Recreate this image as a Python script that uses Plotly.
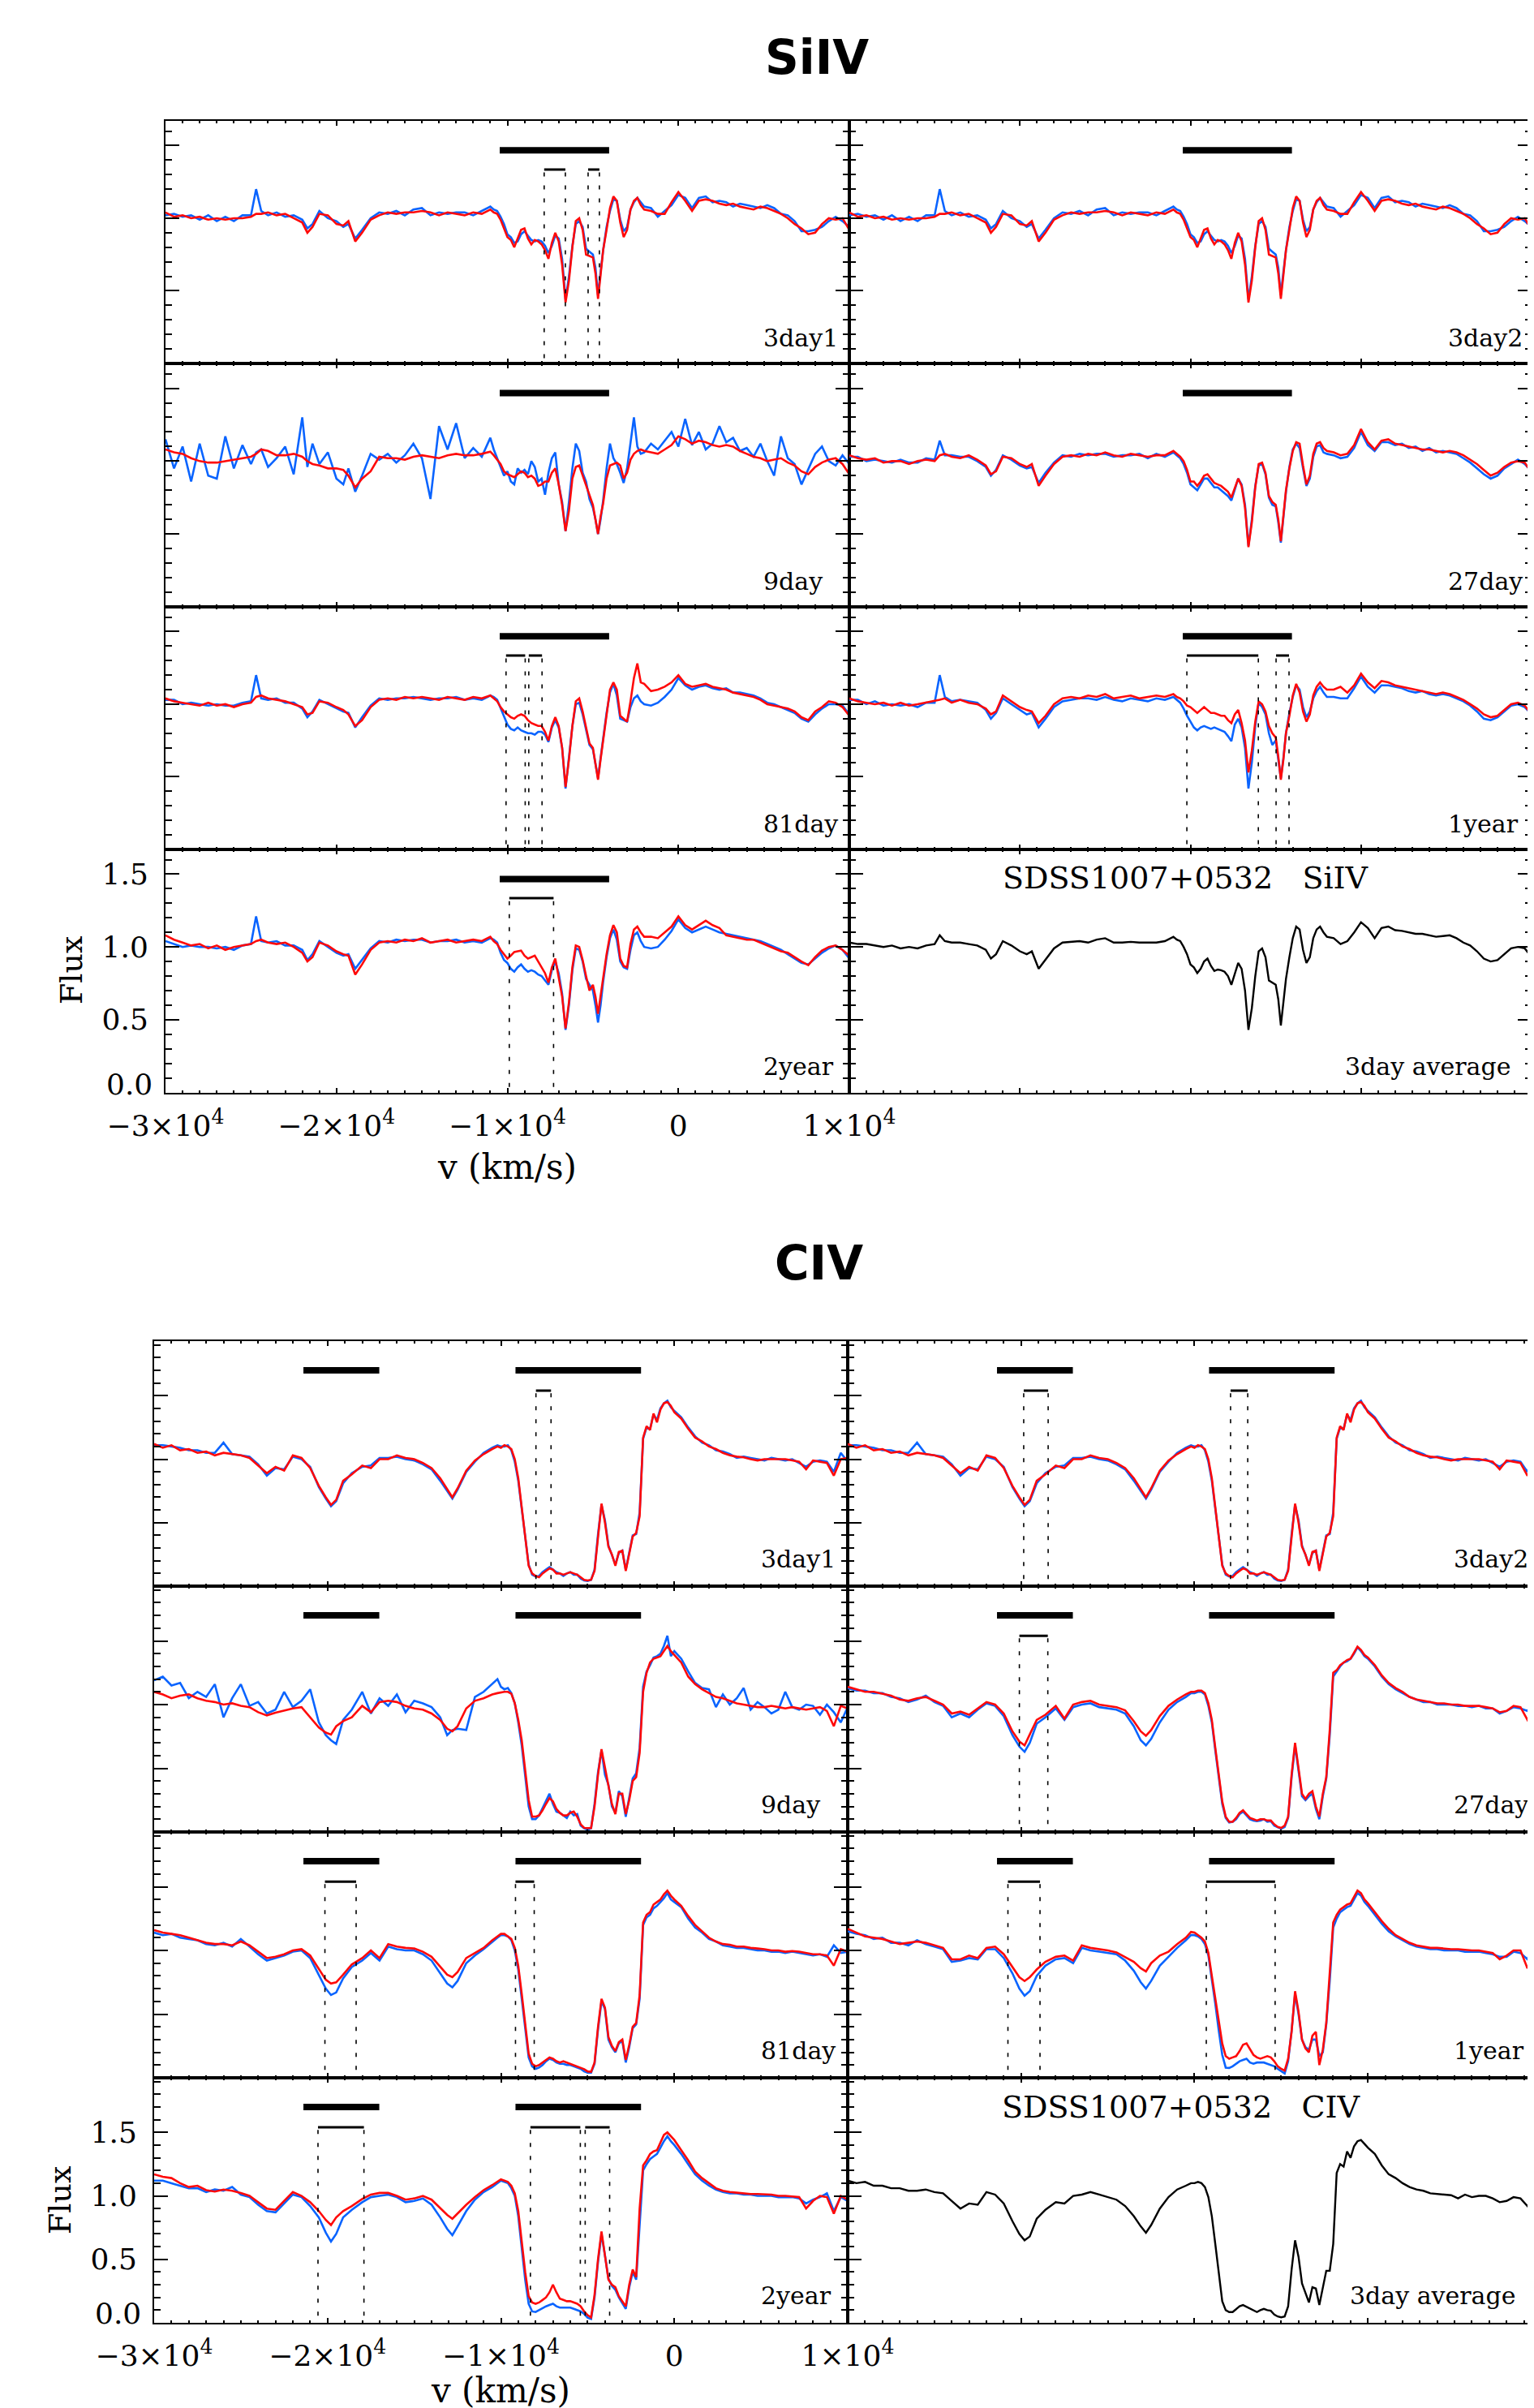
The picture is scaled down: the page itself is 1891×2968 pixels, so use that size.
import plotly.graph_objects as go

PAGE_W, PAGE_H = 1891, 2968
OFF = 8                      # default body margin of the html page
W, H = PAGE_W - OFF, PAGE_H - OFF
BLUE = "#0A64FF"
RED = "#FF0A0A"
SERIF = "DejaVu Serif"

# ---------------------------------------------------------------- SiIV data
v_siiv = ([-30000, -29500, -29000, -28500, -28000, -27500, -27000, -26500, -26000, -25500,
           -25000, -24700, -24400, -24000, -23500, -23000, -22500, -22000, -21700, -21400,
           -21000, -20500, -20000, -19600, -19300, -18900, -18500, -18000, -17500, -17000,
           -16500, -16000, -15500, -15000, -14500, -14000, -13500, -13000, -12500, -12000,
           -11500, -11000]
          + [-10800, -10600, -10400, -10200, -10000, -9800, -9600, -9400, -9200, -9000,
             -8800, -8600, -8400, -8200, -8000, -7800, -7600, -7400, -7200, -7000,
             -6800, -6600, -6400, -6200, -6000, -5800, -5600, -5400, -5200, -5000,
             -4850, -4700, -4550, -4400, -4200, -4000, -3800, -3600, -3400, -3200,
             -3000, -2800, -2600, -2400, -2200, -2000]
          + [-1600, -1200, -800, -400, 0, 400, 800, 1200, 1600, 2000,
             2400, 2800, 3200, 3600, 4000, 4400, 4800, 5200, 5600, 6000,
             6400, 6800, 7200, 7600, 8000, 8400, 8800, 9200, 9600, 10000])

siiv_avg = ([1.03, 1.02, 1.02, 1.01, 1.00, 1.01, 0.99, 1.00, 0.99, 1.01, 1.02, 1.08, 1.04, 1.03, 1.03, 1.02, 1.01, 0.98, 0.92, 0.95,
             1.04, 1.01, 0.97, 0.95, 0.97, 0.85, 0.91, 0.99, 1.03, 1.035, 1.04, 1.03, 1.05, 1.06, 1.03, 1.03, 1.035, 1.03, 1.03, 1.03, 1.04, 1.07]
            + [1.05, 1.04, 1.00, 0.95, 0.88, 0.86, 0.82, 0.85, 0.90, 0.92, 0.87, 0.835, 0.845, 0.84, 0.83, 0.80, 0.74, 0.82, 0.89, 0.85,
               0.70, 0.43, 0.58, 0.80, 0.97, 0.99, 0.93, 0.77, 0.755, 0.74, 0.64, 0.46, 0.62, 0.78, 0.93, 1.06, 1.14, 1.12, 0.98, 0.89,
               0.93, 1.06, 1.12, 1.14, 1.10, 1.07]
            + [1.06, 1.02, 1.04, 1.10, 1.17, 1.13, 1.06, 1.13, 1.14, 1.115, 1.11, 1.10, 1.09, 1.09, 1.08, 1.07, 1.075, 1.08, 1.06, 1.03,
               1.01, 0.97, 0.92, 0.90, 0.91, 0.95, 0.99, 1.00, 0.99, 0.93])

siiv_3day_red = ([1.04, 1.01, 1.02, 1.00, 1.01, 0.99, 1.00, 0.99, 1.00, 1.00, 1.01, 1.03, 1.03, 1.04, 1.02, 1.03, 1.00, 0.97, 0.90, 0.94,
                  1.03, 1.02, 0.96, 0.95, 0.98, 0.84, 0.90, 0.99, 1.02, 1.04, 1.03, 1.04, 1.04, 1.05, 1.04, 1.02, 1.04, 1.03, 1.02, 1.04, 1.03, 1.06]
                 + [1.04, 1.03, 0.99, 0.93, 0.87, 0.85, 0.80, 0.86, 0.92, 0.93, 0.86, 0.82, 0.85, 0.84, 0.82, 0.78, 0.72, 0.83, 0.90, 0.84,
                    0.68, 0.42, 0.57, 0.80, 0.98, 1.00, 0.92, 0.75, 0.74, 0.73, 0.62, 0.445, 0.61, 0.78, 0.92, 1.07, 1.15, 1.12, 0.97, 0.87,
                    0.92, 1.06, 1.12, 1.14, 1.09, 1.06]
                 + [1.05, 1.03, 1.03, 1.11, 1.18, 1.12, 1.05, 1.12, 1.13, 1.12, 1.10, 1.09, 1.10, 1.08, 1.07, 1.06, 1.08, 1.07, 1.05, 1.03,
                    1.00, 0.96, 0.93, 0.89, 0.90, 0.96, 1.00, 0.99, 1.00, 0.92])

siiv_3day_blue = ([1.02, 1.03, 1.01, 1.02, 0.99, 1.02, 0.98, 1.01, 0.98, 1.02, 1.02, 1.20, 1.05, 1.02, 1.04, 1.01, 1.02, 0.99, 0.93, 0.96,
                   1.05, 1.00, 0.98, 0.94, 0.96, 0.86, 0.92, 1.00, 1.04, 1.03, 1.05, 1.02, 1.06, 1.07, 1.02, 1.04, 1.03, 1.04, 1.04, 1.02, 1.05, 1.08]
                  + [1.06, 1.05, 1.01, 0.96, 0.89, 0.87, 0.83, 0.84, 0.89, 0.91, 0.88, 0.85, 0.84, 0.85, 0.84, 0.81, 0.76, 0.81, 0.88, 0.86,
                     0.72, 0.44, 0.60, 0.81, 0.96, 0.98, 0.94, 0.79, 0.77, 0.75, 0.66, 0.47, 0.63, 0.78, 0.94, 1.05, 1.13, 1.12, 0.99, 0.91,
                     0.94, 1.06, 1.11, 1.14, 1.11, 1.08]
                  + [1.07, 1.01, 1.05, 1.09, 1.16, 1.14, 1.07, 1.14, 1.15, 1.11, 1.12, 1.11, 1.08, 1.10, 1.09, 1.08, 1.07, 1.09, 1.07, 1.03,
                     1.02, 0.98, 0.91, 0.91, 0.92, 0.94, 0.98, 1.01, 0.98, 0.94])

siiv_9day_red = ([1.08, 1.06, 1.05, 1.02, 1.00, 0.99, 0.99, 1.00, 1.01, 1.02, 1.03, 1.05, 1.08, 1.07, 1.04, 1.04, 1.05, 1.03, 1.00, 0.98,
                  0.97, 0.95, 0.95, 0.94, 0.90, 0.82, 0.88, 0.93, 1.03, 1.02, 1.02, 1.01, 1.03, 1.04, 1.03, 1.02, 1.04, 1.05, 1.04, 1.04, 1.05, 1.065]
                 + [1.04, 1.01, 0.98, 0.93, 0.91, 0.90, 0.89, 0.91, 0.93, 0.92, 0.89, 0.90, 0.88, 0.83, 0.84, 0.86, 0.86, 0.92, 0.95, 0.84,
                    0.70, 0.52, 0.66, 0.88, 0.96, 0.97, 0.90, 0.83, 0.76, 0.70, 0.60, 0.50, 0.62, 0.71, 0.88, 0.97, 0.98, 0.99, 0.97, 0.88,
                    0.92, 1.01, 1.05, 1.07, 1.08, 1.07]
                 + [1.06, 1.05, 1.08, 1.11, 1.17, 1.15, 1.12, 1.14, 1.13, 1.11, 1.10, 1.11, 1.10, 1.07, 1.05, 1.03, 1.02, 1.00, 1.01, 1.02,
                    0.99, 0.97, 0.93, 0.91, 0.96, 0.99, 1.01, 1.02, 0.98, 0.91])

siiv_9day_blue = ([1.15, 0.95, 1.10, 0.86, 1.12, 0.90, 0.88, 1.17, 0.95, 1.11, 0.98, 1.06, 1.08, 0.96, 1.02, 1.10, 0.91, 1.30, 0.96, 1.12,
                   0.98, 1.06, 0.88, 0.84, 0.95, 0.79, 0.90, 1.05, 1.01, 1.05, 0.99, 1.04, 1.12, 1.02, 0.74, 1.24, 1.08, 1.26, 1.02, 1.09, 1.03, 1.16]
                  + [1.08, 1.02, 0.97, 0.90, 0.93, 0.86, 0.84, 0.95, 0.92, 0.94, 0.91, 1.00, 0.96, 0.86, 0.88, 0.77, 0.92, 1.02, 1.06, 0.84,
                     0.72, 0.52, 0.72, 0.95, 1.12, 1.07, 0.92, 0.86, 0.74, 0.68, 0.60, 0.50, 0.60, 0.73, 0.95, 1.12, 1.02, 0.98, 0.92, 0.85,
                     0.95, 1.12, 1.30, 1.10, 1.05, 1.06]
                  + [1.12, 1.08, 1.14, 1.20, 1.10, 1.29, 1.11, 1.20, 1.08, 1.12, 1.24, 1.13, 1.16, 1.07, 1.09, 1.03, 1.12, 1.00, 0.90, 1.17,
                     1.02, 0.98, 0.84, 0.95, 1.05, 1.10, 1.00, 0.97, 1.04, 0.98])

siiv_27day_red = ([1.04, 1.02, 1.01, 1.02, 0.99, 1.00, 1.00, 0.98, 1.00, 1.01, 1.00, 1.04, 1.05, 1.03, 1.02, 1.04, 1.01, 0.97, 0.91, 0.93,
                   1.03, 1.02, 0.98, 0.96, 0.98, 0.83, 0.90, 0.98, 1.03, 1.04, 1.03, 1.05, 1.04, 1.06, 1.04, 1.03, 1.05, 1.04, 1.03, 1.04, 1.04, 1.07]
                  + [1.05, 1.03, 1.00, 0.94, 0.86, 0.86, 0.83, 0.86, 0.90, 0.91, 0.88, 0.85, 0.84, 0.83, 0.81, 0.79, 0.75, 0.82, 0.88, 0.83,
                     0.68, 0.41, 0.58, 0.82, 0.98, 0.99, 0.92, 0.76, 0.72, 0.70, 0.60, 0.45, 0.62, 0.80, 0.95, 1.07, 1.13, 1.12, 0.97, 0.84,
                     0.90, 1.05, 1.12, 1.13, 1.09, 1.07]
                  + [1.06, 1.04, 1.05, 1.11, 1.22, 1.13, 1.08, 1.14, 1.15, 1.12, 1.11, 1.10, 1.09, 1.08, 1.08, 1.07, 1.06, 1.07, 1.06, 1.04,
                     1.01, 0.98, 0.94, 0.90, 0.92, 0.96, 0.99, 1.00, 0.99, 0.92])

siiv_27day_blue = ([1.03, 1.03, 1.00, 1.01, 1.00, 0.99, 1.01, 0.99, 0.99, 1.02, 1.01, 1.14, 1.04, 1.04, 1.03, 1.03, 1.00, 0.96, 0.90, 0.94,
                    1.04, 1.01, 0.97, 0.95, 0.96, 0.85, 0.92, 0.99, 1.04, 1.03, 1.05, 1.04, 1.05, 1.05, 1.03, 1.04, 1.04, 1.05, 1.02, 1.05, 1.03, 1.06]
                   + [1.04, 1.02, 0.98, 0.92, 0.84, 0.82, 0.80, 0.84, 0.88, 0.88, 0.85, 0.82, 0.82, 0.80, 0.78, 0.76, 0.73, 0.81, 0.88, 0.84,
                      0.70, 0.42, 0.60, 0.83, 0.97, 0.98, 0.91, 0.75, 0.70, 0.69, 0.58, 0.44, 0.60, 0.79, 0.96, 1.08, 1.12, 1.09, 0.95, 0.83,
                      0.88, 1.03, 1.10, 1.11, 1.06, 1.05]
                   + [1.04, 1.02, 1.03, 1.09, 1.20, 1.11, 1.07, 1.13, 1.13, 1.11, 1.12, 1.09, 1.10, 1.07, 1.09, 1.06, 1.07, 1.06, 1.05, 1.02,
                      0.99, 0.95, 0.91, 0.88, 0.90, 0.95, 0.98, 1.01, 0.98, 0.93])

siiv_81day_red = ([1.04, 1.02, 1.01, 1.00, 0.99, 1.01, 0.99, 1.00, 0.98, 1.00, 1.01, 1.05, 1.06, 1.04, 1.03, 1.02, 1.00, 0.98, 0.93, 0.94,
                   1.02, 1.01, 0.98, 0.96, 0.93, 0.85, 0.89, 0.98, 1.03, 1.04, 1.03, 1.05, 1.04, 1.05, 1.04, 1.03, 1.05, 1.04, 1.03, 1.05, 1.04, 1.06]
                  + [1.04, 1.02, 0.98, 0.95, 0.93, 0.91, 0.90, 0.92, 0.93, 0.92, 0.89, 0.87, 0.86, 0.85, 0.85, 0.81, 0.75, 0.85, 0.91, 0.85,
                     0.70, 0.43, 0.62, 0.85, 1.02, 1.04, 0.95, 0.84, 0.73, 0.70, 0.58, 0.48, 0.62, 0.75, 0.95, 1.10, 1.15, 1.10, 0.92, 0.90,
                     0.88, 1.02, 1.18, 1.28, 1.15, 1.14]
                  + [1.09, 1.10, 1.12, 1.15, 1.20, 1.14, 1.12, 1.13, 1.14, 1.12, 1.11, 1.10, 1.08, 1.07, 1.06, 1.05, 1.03, 1.00, 0.99, 0.98,
                     0.97, 0.95, 0.91, 0.89, 0.95, 0.98, 1.02, 1.01, 0.98, 0.92])

siiv_81day_blue = ([1.03, 1.03, 1.00, 1.01, 1.00, 0.99, 1.00, 0.99, 0.99, 1.01, 1.02, 1.20, 1.04, 1.03, 1.04, 1.01, 1.01, 0.97, 0.91, 0.95,
                    1.03, 1.00, 0.97, 0.95, 0.94, 0.84, 0.91, 0.99, 1.04, 1.03, 1.04, 1.04, 1.05, 1.04, 1.03, 1.04, 1.04, 1.05, 1.03, 1.04, 1.03, 1.06]
                   + [1.05, 1.03, 0.97, 0.91, 0.86, 0.83, 0.82, 0.84, 0.82, 0.81, 0.80, 0.80, 0.79, 0.81, 0.81, 0.79, 0.74, 0.84, 0.89, 0.84,
                      0.70, 0.42, 0.62, 0.85, 1.00, 1.01, 0.93, 0.82, 0.72, 0.69, 0.58, 0.49, 0.63, 0.76, 0.94, 1.08, 1.14, 1.06, 0.90, 0.89,
                      0.88, 0.98, 1.04, 1.06, 1.02, 1.00]
                   + [0.99, 1.01, 1.05, 1.10, 1.18, 1.13, 1.10, 1.12, 1.13, 1.11, 1.10, 1.11, 1.08, 1.08, 1.07, 1.06, 1.04, 1.01, 1.00, 0.98,
                      0.96, 0.94, 0.90, 0.88, 0.93, 0.97, 1.00, 1.00, 0.99, 0.93])

siiv_1year_red = ([1.04, 1.02, 1.01, 1.00, 1.01, 0.99, 1.01, 0.99, 1.00, 1.01, 1.02, 1.03, 1.04, 1.01, 1.03, 1.01, 1.00, 0.97, 0.93, 0.95,
                   1.06, 1.02, 0.98, 0.96, 0.95, 0.87, 0.92, 1.00, 1.04, 1.05, 1.04, 1.06, 1.05, 1.07, 1.04, 1.05, 1.06, 1.04, 1.05, 1.06, 1.05, 1.07]
                  + [1.05, 1.04, 1.02, 0.99, 0.98, 0.96, 0.94, 0.96, 0.98, 0.96, 0.94, 0.94, 0.93, 0.92, 0.92, 0.89, 0.87, 0.93, 0.96, 0.87,
                     0.75, 0.53, 0.68, 0.88, 1.02, 1.00, 0.95, 0.85, 0.80, 0.77, 0.64, 0.48, 0.62, 0.80, 0.92, 1.06, 1.14, 1.08, 0.95, 0.88,
                     0.93, 1.06, 1.12, 1.15, 1.12, 1.10]
                  + [1.10, 1.12, 1.08, 1.13, 1.21, 1.15, 1.11, 1.16, 1.15, 1.13, 1.12, 1.11, 1.10, 1.09, 1.08, 1.07, 1.08, 1.07, 1.05, 1.03,
                     1.00, 0.97, 0.93, 0.91, 0.92, 0.96, 1.00, 1.01, 0.99, 0.93])

siiv_1year_blue = ([1.03, 1.03, 1.00, 1.02, 0.99, 1.00, 0.99, 1.00, 0.98, 1.01, 1.01, 1.20, 1.05, 1.02, 1.03, 1.02, 1.01, 0.96, 0.90, 0.94,
                    1.04, 1.00, 0.96, 0.93, 0.94, 0.84, 0.90, 0.98, 1.02, 1.03, 1.04, 1.04, 1.03, 1.05, 1.03, 1.02, 1.04, 1.03, 1.02, 1.04, 1.03, 1.05]
                   + [1.03, 1.01, 0.97, 0.92, 0.88, 0.84, 0.82, 0.84, 0.85, 0.84, 0.83, 0.84, 0.83, 0.82, 0.81, 0.78, 0.745, 0.86, 0.90, 0.84,
                      0.70, 0.42, 0.60, 0.85, 1.01, 0.98, 0.93, 0.80, 0.72, 0.75, 0.62, 0.49, 0.63, 0.80, 0.94, 1.05, 1.13, 1.10, 0.98, 0.91,
                      0.95, 1.04, 1.09, 1.12, 1.08, 1.05]
                   + [1.05, 1.04, 1.04, 1.11, 1.19, 1.12, 1.08, 1.13, 1.13, 1.12, 1.11, 1.09, 1.08, 1.09, 1.07, 1.06, 1.07, 1.06, 1.04, 1.02,
                      0.99, 0.95, 0.90, 0.89, 0.91, 0.95, 0.99, 1.00, 0.98, 0.93])

siiv_2year_red = ([1.08, 1.05, 1.03, 1.01, 1.02, 0.99, 1.01, 0.98, 1.00, 1.01, 1.02, 1.04, 1.05, 1.03, 1.02, 1.03, 1.00, 0.96, 0.90, 0.93,
                   1.03, 1.01, 0.97, 0.95, 0.94, 0.81, 0.88, 0.98, 1.03, 1.04, 1.03, 1.05, 1.04, 1.06, 1.03, 1.04, 1.05, 1.03, 1.04, 1.05, 1.04, 1.07]
                  + [1.04, 1.02, 0.98, 0.95, 0.92, 0.94, 0.965, 0.97, 0.975, 0.94, 0.92, 0.93, 0.94, 0.90, 0.86, 0.82, 0.755, 0.86, 0.92, 0.80,
                     0.66, 0.44, 0.62, 0.86, 1.01, 1.00, 0.91, 0.80, 0.70, 0.74, 0.66, 0.54, 0.66, 0.78, 0.95, 1.08, 1.15, 1.10, 0.92, 0.87,
                     0.86, 1.02, 1.12, 1.14, 1.10, 1.07]
                  + [1.07, 1.06, 1.10, 1.14, 1.21, 1.15, 1.12, 1.15, 1.18, 1.15, 1.13, 1.08, 1.07, 1.06, 1.05, 1.05, 1.03, 1.01, 0.99, 0.97,
                     0.96, 0.93, 0.90, 0.875, 0.93, 0.975, 1.00, 1.01, 0.98, 0.94])

siiv_2year_blue = ([1.04, 1.02, 1.00, 1.01, 1.00, 1.00, 0.99, 1.00, 0.98, 1.01, 1.02, 1.21, 1.04, 1.03, 1.04, 1.01, 1.01, 0.98, 0.91, 0.95,
                    1.04, 1.00, 0.96, 0.94, 0.95, 0.85, 0.91, 0.99, 1.04, 1.03, 1.05, 1.04, 1.05, 1.05, 1.03, 1.04, 1.04, 1.05, 1.03, 1.04, 1.03, 1.06]
                   + [1.05, 1.03, 0.96, 0.91, 0.89, 0.85, 0.83, 0.86, 0.88, 0.85, 0.83, 0.84, 0.83, 0.81, 0.80, 0.77, 0.74, 0.84, 0.90, 0.82,
                      0.68, 0.43, 0.60, 0.84, 0.99, 0.98, 0.90, 0.78, 0.74, 0.70, 0.60, 0.48, 0.60, 0.76, 0.93, 1.06, 1.12, 1.05, 0.90, 0.86,
                      0.85, 0.98, 1.08, 1.10, 1.04, 1.00]
                   + [0.99, 1.00, 1.05, 1.11, 1.19, 1.13, 1.10, 1.12, 1.14, 1.12, 1.10, 1.09, 1.08, 1.07, 1.06, 1.05, 1.04, 1.02, 1.00, 0.98,
                      0.95, 0.92, 0.89, 0.88, 0.92, 0.96, 0.99, 1.01, 0.98, 0.92])

# ---------------------------------------------------------------- CIV data
v_civ = ([-30000, -29500, -29000, -28500, -28000, -27500, -27000, -26500, -26000, -25500,
          -25000, -24500, -24000, -23500, -23000, -22500, -22000, -21500, -21000, -20500,
          -20100, -19800, -19500, -19100, -18600, -18000, -17500, -17000, -16500, -16000,
          -15500, -15000, -14500, -14000, -13500, -13100, -12800, -12500, -12000, -11500,
          -11000, -10500]
         + list(range(-10200, 0, 200))
         + list(range(0, 10001, 400)))

civ_avg = ([1.12, 1.10, 1.11, 1.08, 1.08, 1.06, 1.06, 1.04, 1.04, 1.05, 1.03, 1.02, 0.96, 0.90, 0.94, 0.93, 1.03, 1.01, 0.94, 0.80,
            0.70, 0.65, 0.68, 0.82, 0.89, 0.95, 0.94, 1.00, 1.01, 1.03, 1.01, 0.99, 0.97, 0.92, 0.84, 0.76, 0.71, 0.77, 0.90, 0.99, 1.05, 1.08]
           + [1.10, 1.10, 1.11, 1.10, 1.07, 0.99, 0.84, 0.62, 0.40, 0.17, 0.10, 0.085, 0.085, 0.11, 0.13, 0.14, 0.125, 0.11, 0.10, 0.085,
              0.10, 0.11, 0.10, 0.095, 0.065, 0.05, 0.043, 0.05, 0.13, 0.42, 0.65, 0.52, 0.31, 0.23, 0.16, 0.28, 0.27, 0.14, 0.27, 0.41,
              0.41, 0.62, 1.18, 1.25, 1.23, 1.35, 1.30, 1.39, 1.43, 1.44, 1.41]
           + [1.38, 1.33, 1.24, 1.17, 1.14, 1.10, 1.07, 1.05, 1.04, 1.02, 1.015, 1.01, 1.005, 0.98, 1.01, 0.99, 1.00, 1.00, 0.98, 0.95,
              0.96, 0.99, 0.98, 0.92, 0.99, 1.00])

civ_3day_red = ([1.12, 1.09, 1.11, 1.07, 1.08, 1.05, 1.06, 1.03, 1.05, 1.04, 1.03, 1.01, 0.95, 0.89, 0.94, 0.91, 1.03, 1.01, 0.93, 0.79,
                 0.70, 0.64, 0.68, 0.83, 0.88, 0.95, 0.93, 1.00, 1.00, 1.03, 1.01, 1.00, 0.97, 0.93, 0.85, 0.76, 0.70, 0.77, 0.91, 0.99, 1.04, 1.08]
                + [1.10, 1.09, 1.11, 1.10, 1.08, 1.00, 0.85, 0.62, 0.39, 0.16, 0.10, 0.08, 0.07, 0.10, 0.12, 0.14, 0.13, 0.10, 0.10, 0.09,
                   0.10, 0.11, 0.10, 0.09, 0.07, 0.05, 0.045, 0.05, 0.12, 0.40, 0.65, 0.50, 0.31, 0.25, 0.16, 0.27, 0.28, 0.12, 0.25, 0.39,
                   0.42, 0.55, 1.17, 1.26, 1.23, 1.36, 1.29, 1.39, 1.44, 1.45, 1.42]
                + [1.37, 1.32, 1.24, 1.17, 1.14, 1.10, 1.08, 1.05, 1.03, 1.02, 1.015, 1.00, 0.99, 1.00, 1.00, 1.00, 1.00, 0.99, 0.98, 0.92,
                   0.99, 0.98, 0.97, 0.87, 1.00, 1.01])

civ_3day_blue = ([1.11, 1.11, 1.10, 1.09, 1.07, 1.07, 1.05, 1.05, 1.13, 1.04, 1.03, 1.02, 0.96, 0.87, 0.93, 0.92, 1.02, 1.00, 0.94, 0.78,
                  0.69, 0.63, 0.67, 0.81, 0.89, 0.94, 0.95, 1.01, 1.01, 1.02, 1.00, 0.99, 0.96, 0.92, 0.83, 0.75, 0.69, 0.76, 0.90, 0.98, 1.05, 1.09]
                 + [1.11, 1.10, 1.10, 1.11, 1.07, 0.98, 0.83, 0.61, 0.40, 0.17, 0.09, 0.075, 0.08, 0.11, 0.13, 0.15, 0.13, 0.11, 0.10, 0.08,
                    0.10, 0.11, 0.09, 0.09, 0.06, 0.045, 0.04, 0.05, 0.13, 0.41, 0.64, 0.52, 0.32, 0.24, 0.17, 0.26, 0.28, 0.13, 0.26, 0.40,
                    0.41, 0.58, 1.16, 1.25, 1.24, 1.35, 1.31, 1.40, 1.44, 1.46, 1.41]
                 + [1.38, 1.33, 1.25, 1.18, 1.13, 1.11, 1.07, 1.06, 1.04, 1.01, 1.02, 1.01, 1.00, 0.99, 1.01, 1.00, 0.99, 1.00, 0.97, 0.94,
                    0.98, 0.99, 0.98, 0.90, 1.05, 0.98])

civ_9day_red = ([1.10, 1.08, 1.05, 1.07, 1.08, 1.05, 1.03, 1.02, 1.00, 1.01, 0.99, 0.98, 0.94, 0.915, 0.936, 0.955, 0.97, 0.98, 0.90, 0.82,
                 0.78, 0.765, 0.83, 0.87, 0.90, 0.99, 0.94, 1.02, 1.03, 1.02, 0.99, 0.97, 0.96, 0.93, 0.88, 0.81, 0.79, 0.83, 0.97, 1.03, 1.05, 1.08]
                + [1.09, 1.095, 1.10, 1.10, 1.085, 1.01, 0.88, 0.72, 0.50, 0.25, 0.12, 0.12, 0.13, 0.17, 0.22, 0.265, 0.24, 0.18, 0.15, 0.13,
                   0.13, 0.15, 0.16, 0.12, 0.06, 0.032, 0.03, 0.03, 0.20, 0.45, 0.65, 0.50, 0.35, 0.22, 0.14, 0.30, 0.30, 0.14, 0.25, 0.40,
                   0.43, 0.62, 1.10, 1.25, 1.33, 1.36, 1.37, 1.38, 1.42, 1.46, 1.42]
                + [1.39, 1.33, 1.22, 1.16, 1.12, 1.09, 1.06, 1.05, 1.03, 1.01, 1.00, 0.99, 0.98, 0.98, 0.99, 0.98, 0.97, 0.98, 0.97, 0.96,
                   0.97, 0.98, 0.95, 0.83, 0.99, 0.97])

civ_9day_blue = ([1.19, 1.22, 1.15, 1.17, 1.05, 1.10, 1.06, 1.16, 0.90, 1.05, 1.16, 0.99, 1.02, 0.93, 0.96, 1.10, 0.98, 1.03, 1.12, 0.86,
                  0.76, 0.72, 0.69, 0.88, 0.96, 1.10, 0.93, 1.05, 0.99, 1.08, 0.94, 1.03, 1.01, 0.98, 0.90, 0.76, 0.80, 0.81, 0.80, 1.06, 1.10, 1.16]
                 + [1.20, 1.14, 1.12, 1.13, 1.09, 1.01, 0.86, 0.68, 0.45, 0.20, 0.10, 0.10, 0.13, 0.19, 0.24, 0.30, 0.22, 0.16, 0.15, 0.13,
                    0.11, 0.16, 0.13, 0.14, 0.05, 0.03, 0.017, 0.03, 0.22, 0.47, 0.64, 0.45, 0.37, 0.20, 0.15, 0.32, 0.28, 0.12, 0.26, 0.42,
                    0.46, 0.66, 1.14, 1.26, 1.31, 1.37, 1.38, 1.40, 1.46, 1.54, 1.38]
                 + [1.42, 1.36, 1.26, 1.17, 1.13, 1.12, 0.98, 1.08, 1.00, 1.05, 1.13, 0.96, 1.02, 0.98, 0.93, 0.96, 1.10, 0.98, 0.96, 1.00,
                    0.99, 0.92, 1.00, 0.94, 0.86, 0.98])

civ_27day_red = ([1.14, 1.12, 1.10, 1.10, 1.085, 1.07, 1.04, 1.03, 1.05, 1.06, 1.03, 1.00, 0.93, 0.945, 0.92, 0.97, 1.02, 1.00, 0.93, 0.79,
                  0.71, 0.68, 0.77, 0.88, 0.92, 0.99, 0.89, 1.00, 1.02, 1.03, 1.00, 0.99, 0.98, 0.955, 0.87, 0.79, 0.755, 0.80, 0.91, 0.99, 1.04, 1.08]
                 + [1.10, 1.10, 1.11, 1.11, 1.09, 1.01, 0.88, 0.66, 0.45, 0.24, 0.12, 0.08, 0.08, 0.11, 0.15, 0.17, 0.14, 0.11, 0.10, 0.09,
                    0.10, 0.10, 0.09, 0.09, 0.06, 0.04, 0.032, 0.05, 0.12, 0.45, 0.70, 0.50, 0.30, 0.26, 0.30, 0.32, 0.20, 0.12, 0.30, 0.43,
                    0.80, 1.25, 1.27, 1.31, 1.33, 1.35, 1.36, 1.41, 1.455, 1.43, 1.39]
                 + [1.37, 1.31, 1.23, 1.17, 1.13, 1.10, 1.06, 1.04, 1.03, 1.02, 1.01, 1.01, 1.00, 1.00, 0.99, 0.99, 0.99, 0.98, 0.97, 0.94,
                    0.95, 0.99, 0.98, 0.88, 0.96, 0.97])

civ_27day_blue = ([1.13, 1.11, 1.11, 1.09, 1.09, 1.06, 1.05, 1.02, 1.04, 1.07, 1.02, 0.99, 0.90, 0.93, 0.90, 0.96, 1.01, 0.99, 0.91, 0.76,
                   0.67, 0.63, 0.70, 0.85, 0.90, 0.97, 0.88, 0.98, 1.00, 1.01, 0.98, 0.97, 0.96, 0.93, 0.83, 0.72, 0.68, 0.73, 0.86, 0.96, 1.02, 1.06]
                  + [1.09, 1.09, 1.10, 1.10, 1.08, 0.99, 0.86, 0.64, 0.43, 0.22, 0.11, 0.075, 0.08, 0.10, 0.14, 0.16, 0.13, 0.10, 0.09, 0.085,
                     0.09, 0.10, 0.08, 0.085, 0.05, 0.035, 0.025, 0.04, 0.11, 0.43, 0.68, 0.48, 0.28, 0.25, 0.28, 0.30, 0.18, 0.10, 0.28, 0.42,
                     0.76, 1.22, 1.26, 1.30, 1.33, 1.34, 1.36, 1.40, 1.45, 1.42, 1.38]
                  + [1.36, 1.30, 1.22, 1.16, 1.12, 1.09, 1.06, 1.04, 1.02, 1.02, 1.00, 1.00, 1.00, 0.99, 0.99, 0.98, 0.99, 0.97, 0.97, 0.93,
                     0.95, 0.98, 0.97, 0.95, 1.03, 0.96])

civ_81day_red = ([1.16, 1.14, 1.13, 1.12, 1.10, 1.08, 1.06, 1.05, 1.05, 1.04, 1.07, 1.04, 0.99, 0.94, 0.95, 0.97, 1.00, 1.01, 0.96, 0.85,
                  0.77, 0.74, 0.75, 0.81, 0.89, 0.94, 1.00, 0.94, 1.05, 1.03, 1.02, 1.015, 0.99, 0.95, 0.87, 0.81, 0.79, 0.83, 0.94, 0.98, 1.02, 1.08]
                 + [1.11, 1.13, 1.13, 1.11, 1.09, 1.02, 0.88, 0.66, 0.42, 0.19, 0.11, 0.09, 0.10, 0.12, 0.14, 0.16, 0.15, 0.13, 0.12, 0.13,
                    0.12, 0.11, 0.10, 0.09, 0.08, 0.068, 0.05, 0.047, 0.12, 0.40, 0.62, 0.55, 0.32, 0.25, 0.21, 0.28, 0.30, 0.14, 0.26, 0.40,
                    0.43, 0.65, 1.22, 1.28, 1.30, 1.36, 1.38, 1.40, 1.44, 1.47, 1.43]
                 + [1.40, 1.35, 1.27, 1.20, 1.15, 1.10, 1.07, 1.05, 1.045, 1.03, 1.03, 1.02, 1.015, 1.01, 1.00, 1.00, 0.99, 0.995, 0.99, 0.98,
                    0.97, 0.97, 0.96, 0.88, 1.01, 0.99])

civ_81day_blue = ([1.14, 1.12, 1.13, 1.10, 1.09, 1.08, 1.05, 1.04, 1.06, 1.03, 1.09, 1.03, 0.97, 0.92, 0.94, 0.96, 0.99, 1.00, 0.94, 0.81,
                   0.70, 0.65, 0.67, 0.78, 0.87, 0.92, 0.98, 0.92, 1.03, 1.01, 1.00, 1.00, 0.97, 0.92, 0.82, 0.74, 0.71, 0.76, 0.90, 0.96, 1.01, 1.07]
                  + [1.10, 1.12, 1.12, 1.11, 1.08, 1.00, 0.85, 0.62, 0.38, 0.16, 0.09, 0.07, 0.08, 0.10, 0.13, 0.15, 0.14, 0.12, 0.11, 0.11,
                     0.10, 0.10, 0.09, 0.08, 0.07, 0.05, 0.04, 0.04, 0.11, 0.38, 0.60, 0.54, 0.30, 0.24, 0.20, 0.27, 0.29, 0.12, 0.24, 0.39,
                     0.42, 0.62, 1.20, 1.26, 1.28, 1.33, 1.35, 1.38, 1.41, 1.45, 1.40]
                  + [1.38, 1.34, 1.25, 1.18, 1.14, 1.09, 1.07, 1.04, 1.03, 1.02, 1.02, 1.01, 1.00, 1.00, 0.99, 0.99, 0.98, 0.99, 0.98, 0.97,
                     0.96, 0.97, 0.95, 1.04, 0.98, 0.99])

civ_1year_red = ([1.17, 1.14, 1.11, 1.10, 1.09, 1.07, 1.05, 1.06, 1.07, 1.06, 1.04, 1.02, 0.93, 0.93, 0.96, 0.94, 1.02, 1.03, 0.97, 0.87,
                  0.79, 0.76, 0.79, 0.85, 0.91, 0.95, 0.96, 0.92, 1.04, 1.02, 1.01, 1.00, 0.985, 0.95, 0.91, 0.86, 0.835, 0.90, 0.96, 0.99, 1.05, 1.10]
                 + [1.145, 1.14, 1.12, 1.10, 1.07, 0.98, 0.80, 0.62, 0.42, 0.27, 0.17, 0.15, 0.16, 0.17, 0.21, 0.26, 0.27, 0.22, 0.18, 0.16,
                    0.15, 0.16, 0.17, 0.16, 0.13, 0.09, 0.07, 0.056, 0.15, 0.36, 0.68, 0.52, 0.30, 0.23, 0.20, 0.33, 0.36, 0.10, 0.22, 0.43,
                    0.80, 1.22, 1.28, 1.32, 1.34, 1.36, 1.37, 1.42, 1.47, 1.45, 1.40]
                 + [1.37, 1.30, 1.23, 1.17, 1.12, 1.09, 1.06, 1.04, 1.03, 1.02, 1.02, 1.015, 1.01, 1.01, 1.005, 1.00, 1.00, 0.99, 0.98, 0.93,
                    0.96, 1.00, 1.00, 0.86, 0.98, 0.97])

civ_1year_blue = ([1.15, 1.13, 1.12, 1.09, 1.10, 1.06, 1.06, 1.04, 1.08, 1.05, 1.03, 1.01, 0.91, 0.92, 0.94, 0.93, 1.01, 1.01, 0.94, 0.82,
                   0.70, 0.645, 0.68, 0.80, 0.88, 0.93, 0.94, 0.90, 1.02, 1.00, 0.99, 0.98, 0.97, 0.92, 0.84, 0.75, 0.70, 0.76, 0.88, 0.95, 1.02, 1.08]
                  + [1.12, 1.12, 1.11, 1.09, 1.05, 0.96, 0.78, 0.58, 0.37, 0.18, 0.08, 0.077, 0.09, 0.11, 0.13, 0.14, 0.15, 0.12, 0.11, 0.12,
                     0.12, 0.12, 0.11, 0.10, 0.09, 0.07, 0.05, 0.034, 0.13, 0.37, 0.66, 0.50, 0.30, 0.24, 0.22, 0.30, 0.30, 0.17, 0.20, 0.42,
                     0.76, 1.18, 1.25, 1.30, 1.32, 1.34, 1.35, 1.40, 1.45, 1.43, 1.38]
                  + [1.35, 1.28, 1.21, 1.15, 1.11, 1.08, 1.05, 1.03, 1.02, 1.01, 1.01, 1.00, 1.00, 1.00, 0.99, 0.99, 0.99, 0.98, 0.97, 0.95,
                     0.95, 0.99, 0.98, 0.93, 1.06, 0.98])

civ_2year_red = ([1.17, 1.15, 1.14, 1.10, 1.07, 1.08, 1.045, 1.034, 1.05, 1.04, 1.023, 1.00, 0.95, 0.90, 0.89, 0.96, 1.03, 1.00, 0.95, 0.88,
                  0.81, 0.77, 0.83, 0.88, 0.92, 0.975, 1.01, 1.023, 1.023, 1.00, 0.97, 0.98, 1.00, 0.97, 0.90, 0.85, 0.82, 0.86, 0.93, 0.99, 1.045, 1.085]
                 + [1.11, 1.13, 1.12, 1.11, 1.08, 1.02, 0.88, 0.62, 0.40, 0.21, 0.16, 0.15, 0.16, 0.18, 0.20, 0.24, 0.30, 0.24, 0.19, 0.18,
                    0.17, 0.17, 0.16, 0.15, 0.13, 0.09, 0.06, 0.043, 0.22, 0.50, 0.72, 0.52, 0.34, 0.30, 0.28, 0.21, 0.17, 0.13, 0.30, 0.42,
                    0.36, 0.90, 1.24, 1.28, 1.33, 1.35, 1.36, 1.42, 1.48, 1.50, 1.47]
                 + [1.44, 1.36, 1.28, 1.19, 1.14, 1.10, 1.06, 1.04, 1.03, 1.025, 1.02, 1.015, 1.015, 1.013, 1.01, 1.00, 1.00, 0.995, 0.99, 0.90,
                    0.96, 1.00, 0.99, 0.86, 1.00, 0.97])

civ_2year_blue = ([1.12, 1.12, 1.10, 1.08, 1.06, 1.06, 1.03, 1.05, 1.04, 1.07, 1.01, 0.99, 0.93, 0.88, 0.87, 0.94, 1.01, 0.99, 0.92, 0.83,
                   0.71, 0.64, 0.70, 0.83, 0.89, 0.95, 0.99, 1.00, 1.01, 0.99, 0.95, 0.96, 0.98, 0.93, 0.83, 0.74, 0.69, 0.76, 0.88, 0.97, 1.03, 1.07]
                  + [1.10, 1.12, 1.11, 1.10, 1.06, 1.00, 0.84, 0.57, 0.34, 0.15, 0.09, 0.085, 0.10, 0.12, 0.13, 0.14, 0.15, 0.13, 0.12, 0.12,
                     0.12, 0.12, 0.11, 0.10, 0.09, 0.07, 0.04, 0.03, 0.20, 0.48, 0.70, 0.53, 0.35, 0.29, 0.26, 0.20, 0.15, 0.11, 0.28, 0.40,
                     0.34, 0.80, 1.20, 1.25, 1.29, 1.31, 1.33, 1.38, 1.43, 1.47, 1.43]
                  + [1.40, 1.33, 1.25, 1.17, 1.12, 1.08, 1.05, 1.03, 1.02, 1.02, 1.01, 1.01, 1.00, 1.00, 1.00, 0.99, 0.99, 0.99, 0.98, 0.94,
                     0.97, 0.99, 1.02, 0.88, 0.99, 0.96])

# absorption-trough markers (velocity intervals, km/s)
siiv_thick_bars = [(-10450, -4050)]
siiv_thin_bars = {
    "3day1": [(-7850, -6610), (-5280, -4620)],
    "3day2": [], "9day": [], "27day": [],
    "81day": [(-10080, -8960), (-8750, -7975)],
    "1year": [(-10210, -6020), (-4980, -4220)],
    "2year": [(-9890, -7300)],
}
civ_thick_bars = [(-21390, -17015), (-9160, -1920)]
civ_thin_bars = {
    "3day1": [(-7980, -7110)],
    "3day2": [(-19850, -18440), (-7920, -6930)],
    "9day": [],
    "27day": [(-20100, -18460)],
    "81day": [(-20150, -18350), (-9160, -8080)],
    "1year": [(-20760, -18910), (-9320, -5350)],
    "2year": [(-20550, -17900), (-8300, -5420), (-5140, -3730)],
}

x_tick_vals = [-30000, -20000, -10000, 0, 10000]
x_tick_text = ["\u22123\u00d710<sup>4</sup>", "\u22122\u00d710<sup>4</sup>", "\u22121\u00d710<sup>4</sup>",
               "0", "1\u00d710<sup>4</sup>"]
y_tick_vals = [0.5, 1.0, 1.5]
y_tick_text = ["0.5", "1.0", "1.5"]

# length checks
for nm, arr in [("siiv_avg", siiv_avg), ("siiv_3day_red", siiv_3day_red), ("siiv_3day_blue", siiv_3day_blue),
                ("siiv_9day_red", siiv_9day_red), ("siiv_9day_blue", siiv_9day_blue),
                ("siiv_27day_red", siiv_27day_red), ("siiv_27day_blue", siiv_27day_blue),
                ("siiv_81day_red", siiv_81day_red), ("siiv_81day_blue", siiv_81day_blue),
                ("siiv_1year_red", siiv_1year_red), ("siiv_1year_blue", siiv_1year_blue),
                ("siiv_2year_red", siiv_2year_red), ("siiv_2year_blue", siiv_2year_blue)]:
    if len(arr) != len(v_siiv):
        raise ValueError(f"{nm}: {len(arr)} vs {len(v_siiv)}")
for nm, arr in [("civ_avg", civ_avg), ("civ_3day_red", civ_3day_red), ("civ_3day_blue", civ_3day_blue),
                ("civ_9day_red", civ_9day_red), ("civ_9day_blue", civ_9day_blue),
                ("civ_27day_red", civ_27day_red), ("civ_27day_blue", civ_27day_blue),
                ("civ_81day_red", civ_81day_red), ("civ_81day_blue", civ_81day_blue),
                ("civ_1year_red", civ_1year_red), ("civ_1year_blue", civ_1year_blue),
                ("civ_2year_red", civ_2year_red), ("civ_2year_blue", civ_2year_blue)]:
    if len(arr) != len(v_civ):
        raise ValueError(f"{nm}: {len(arr)} vs {len(v_civ)}")

# ---------------------------------------------------------------- layout config (page pixels)
ions = [
    dict(key="siiv", title="SiIV", title_xy=(1007, 71), v=v_siiv, avg=siiv_avg, ymax=1.67,
         thick=siiv_thick_bars, thin=siiv_thin_bars, thick_y=1.467, thin_y=1.335,
         cols=[(204, 1047), (1047, 1888)], rows=[(149, 448), (448, 748), (748, 1047), (1047, 1346.5)],
         xr=[[-30000, 10000], [-30000, 10000]], lab_off=[735, 736], avg_lab_x=1656, lab_dy=32,
         name="SDSS1007+0532\u00a0\u00a0\u00a0SiIV", name_xy=(1234, 1082),
         flux_xy=(88, 1196), vel_xy=(625, 1438), zero_xy=(190, 1336),
         panels=[("3day1", siiv_3day_blue, siiv_3day_red), ("3day2", siiv_3day_blue, siiv_3day_red),
                 ("9day", siiv_9day_blue, siiv_9day_red), ("27day", siiv_27day_blue, siiv_27day_red),
                 ("81day", siiv_81day_blue, siiv_81day_red), ("1year", siiv_1year_blue, siiv_1year_red),
                 ("2year", siiv_2year_blue, siiv_2year_red)]),
    dict(key="civ", title="CIV", title_xy=(1009, 1557), v=v_civ, avg=civ_avg, ymax=1.93,
         thick=civ_thick_bars, thin=civ_thin_bars, thick_y=1.70, thin_y=1.54,
         cols=[(190, 1045), (1045, 1891)], rows=[(1653, 1955), (1955, 2258), (2258, 2561), (2561, 2863)],
         xr=[[-30000, 10000], [-30000, 9580]], lab_off=[746, 745], avg_lab_x=1662, lab_dy=34,
         name="SDSS1007+0532\u00a0\u00a0\u00a0CIV", name_xy=(1233, 2597),
         flux_xy=(74, 2712), vel_xy=(617, 2946), zero_xy=(176, 2851),
         panels=[("3day1", civ_3day_blue, civ_3day_red), ("3day2", civ_3day_blue, civ_3day_red),
                 ("9day", civ_9day_blue, civ_9day_red), ("27day", civ_27day_blue, civ_27day_red),
                 ("81day", civ_81day_blue, civ_81day_red), ("1year", civ_1year_blue, civ_1year_red),
                 ("2year", civ_2year_blue, civ_2year_red)]),
]


def px(xp):
    return min(1.0, max(0.0, (xp - OFF) / W))


def py(yp):
    return min(1.0, max(0.0, 1 - (yp - OFF) / H))


fig = go.Figure()
layout = dict(width=W, height=H, autosize=False, margin=dict(l=0, r=0, t=0, b=0, pad=0),
              paper_bgcolor="white", plot_bgcolor="white", showlegend=False,
              font=dict(family=SERIF, color="black"))
annotations = []

k = 0
for ion in ions:
    annotations.append(dict(text=f"<b>{ion['title']}</b>", x=px(ion['title_xy'][0]), y=py(ion['title_xy'][1]),
                            xref="paper", yref="paper", xanchor="center", yanchor="middle", showarrow=False,
                            font=dict(family="DejaVu Sans", size=58, color="black")))
    annotations.append(dict(text="Flux", x=px(ion['flux_xy'][0]), y=py(ion['flux_xy'][1]), xref="paper", yref="paper",
                            xanchor="center", yanchor="middle", textangle=-90, showarrow=False,
                            font=dict(family=SERIF, size=38, color="black")))
    annotations.append(dict(text="v (km/s)", x=px(ion['vel_xy'][0]), y=py(ion['vel_xy'][1]), xref="paper", yref="paper",
                            xanchor="center", yanchor="middle", showarrow=False,
                            font=dict(family=SERIF, size=42, color="black")))
    annotations.append(dict(text="0.0", x=px(ion['zero_xy'][0]), y=py(ion['zero_xy'][1]), xref="paper", yref="paper",
                            xanchor="right", yanchor="middle", showarrow=False,
                            font=dict(family=SERIF, size=36, color="black")))
    for idx in range(8):
        r, c = divmod(idx, 2)
        k += 1
        xs = "x" if k == 1 else f"x{k}"
        ys = "y" if k == 1 else f"y{k}"
        x0, x1 = ion['cols'][c]
        y0, y1 = ion['rows'][r]
        labeled = (r == 3 and c == 0)
        clipped_right = (ion['key'] == "civ" and c == 1)

        xa = dict(domain=[px(x0), px(x1)], range=ion['xr'][c], anchor=ys, automargin=False,
                  showline=True, linecolor="black", linewidth=2, mirror="ticks",
                  ticks="inside", ticklen=6, tickwidth=2, tickcolor="black",
                  showgrid=False, zeroline=False,
                  minor=dict(ticks="inside", ticklen=3, tickwidth=1.5, tickcolor="black",
                             tickmode="linear", tick0=0, dtick=1000, showgrid=False))
        if labeled:
            xa.update(tickmode="array", tickvals=x_tick_vals, ticktext=x_tick_text, showticklabels=True,
                      tickfont=dict(family=SERIF, size=36, color="black"), ticklabelstandoff=8)
        else:
            xa.update(tickmode="linear", tick0=0, dtick=10000, showticklabels=False)

        ya = dict(domain=[py(y1), py(y0)], range=[0, ion['ymax']], anchor=xs, automargin=False,
                  showline=True, linecolor="black", linewidth=2,
                  mirror=(False if clipped_right else "ticks"),
                  ticks="inside", ticklen=17, tickwidth=2, tickcolor="black",
                  showgrid=False, zeroline=False,
                  minor=dict(ticks="inside", ticklen=8, tickwidth=1.5, tickcolor="black",
                             tickmode="linear", tick0=0, dtick=0.1, showgrid=False))
        if labeled:
            ya.update(tickmode="array", tickvals=y_tick_vals, ticktext=y_tick_text, showticklabels=True,
                      tickfont=dict(family=SERIF, size=36, color="black"), ticklabelstandoff=12)
        else:
            ya.update(tickmode="linear", tick0=0, dtick=0.5, showticklabels=False)

        layout["xaxis" if k == 1 else f"xaxis{k}"] = xa
        layout["yaxis" if k == 1 else f"yaxis{k}"] = ya

        label_y = py(y1 - ion['lab_dy'])
        if idx < 7:
            label, blue, red = ion['panels'][idx]
            fig.add_trace(go.Scatter(x=ion['v'], y=blue, mode="lines", line=dict(color=BLUE, width=2.6),
                                     xaxis=xs, yaxis=ys, hoverinfo="skip"))
            fig.add_trace(go.Scatter(x=ion['v'], y=red, mode="lines", line=dict(color=RED, width=2.6),
                                     xaxis=xs, yaxis=ys, hoverinfo="skip"))
            bx, by = [], []
            for a, b in ion['thick']:
                bx += [a, b, None]
                by += [ion['thick_y'], ion['thick_y'], None]
            fig.add_trace(go.Scatter(x=bx, y=by, mode="lines", line=dict(color="black", width=8),
                                     xaxis=xs, yaxis=ys, hoverinfo="skip"))
            thin = ion['thin'][label]
            if thin:
                tx, ty, dx, dy = [], [], [], []
                for a, b in thin:
                    tx += [a, b, None]
                    ty += [ion['thin_y'], ion['thin_y'], None]
                    for e in (a, b):
                        dx += [e, e, None]
                        dy += [ion['thin_y'] - 0.02, 0, None]
                fig.add_trace(go.Scatter(x=tx, y=ty, mode="lines", line=dict(color="black", width=3),
                                         xaxis=xs, yaxis=ys, hoverinfo="skip"))
                fig.add_trace(go.Scatter(x=dx, y=dy, mode="lines", line=dict(color="black", width=1.6, dash="5px,11px"),
                                         xaxis=xs, yaxis=ys, hoverinfo="skip"))
            annotations.append(dict(text=label, x=px(x0 + ion['lab_off'][c]), y=label_y, xref="paper", yref="paper",
                                    xanchor="left", yanchor="middle", showarrow=False,
                                    font=dict(family=SERIF, size=30, color="black")))
        else:
            fig.add_trace(go.Scatter(x=ion['v'], y=ion['avg'], mode="lines", line=dict(color="black", width=2.4),
                                     xaxis=xs, yaxis=ys, hoverinfo="skip"))
            annotations.append(dict(text="3day average", x=px(ion['avg_lab_x']), y=label_y, xref="paper", yref="paper",
                                    xanchor="left", yanchor="middle", showarrow=False,
                                    font=dict(family=SERIF, size=30, color="black")))
            annotations.append(dict(text=ion['name'], x=px(ion['name_xy'][0]), y=py(ion['name_xy'][1]),
                                    xref="paper", yref="paper", xanchor="left", yanchor="middle", showarrow=False,
                                    font=dict(family=SERIF, size=38, color="black")))

layout["annotations"] = annotations
fig.update_layout(**layout)
fig.write_html("out.html")
